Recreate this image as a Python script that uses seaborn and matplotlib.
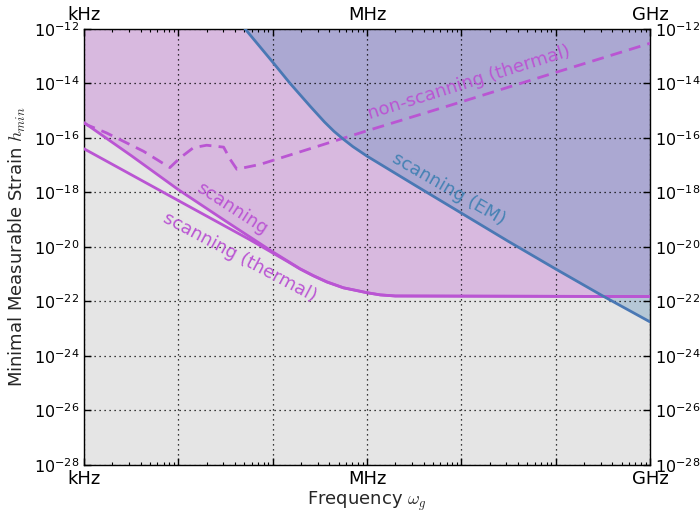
import numpy as np
import matplotlib
matplotlib.use("Agg")
import matplotlib.pyplot as plt
from matplotlib.ticker import LogLocator, NullLocator, FixedLocator, FixedFormatter, FuncFormatter
import seaborn as sns

# Frequencies and strains stored as log10 exponents
scan_logf = [3.0, 3.5, 4.0, 4.5, 5.0, 5.15, 5.29, 5.43, 5.575, 5.75, 5.89, 6.0, 6.14, 6.3, 9.0]
scan_logh = [-15.44, -16.65, -17.9, -19.05, -20.18, -20.5, -20.8, -21.05, -21.28, -21.5, -21.6, -21.68, -21.76, -21.8, -21.82]

thermal_logf = [3.0, 4.0, 4.76, 5.0, 5.15, 5.29, 5.43, 5.575, 5.75, 5.89, 6.0, 6.14, 6.3, 9.0]
thermal_logh = [-16.4, -18.3, -19.74, -20.22, -20.52, -20.81, -21.06, -21.29, -21.5, -21.6, -21.68, -21.76, -21.8, -21.82]

nonscan_logf = [3.0, 3.03, 3.24, 3.63, 3.91, 4.02, 4.16, 4.30, 4.48, 4.55, 4.62, 4.87, 6.0, 7.0, 8.0, 9.0]
nonscan_logh = [-15.45, -15.52, -15.82, -16.49, -17.09, -16.73, -16.36, -16.27, -16.34, -16.79, -17.15, -16.97, -15.74, -14.68, -13.6, -12.53]

em_logf = [4.6, 4.707, 5.0, 5.184, 5.4, 5.55, 5.65, 5.75, 5.85, 6.0, 6.5, 7.0, 7.5, 8.0, 8.5, 9.0]
em_logh = [-11.55, -12.0, -13.22, -14.0, -14.85, -15.42, -15.76, -16.05, -16.32, -16.67, -17.72, -18.76, -19.8, -20.81, -21.8, -22.75]

freq_ticks = [1e3, 1e4, 1e5, 1e6, 1e7, 1e8, 1e9]
freq_labels = ["kHz", "", "", "MHz", "", "", "GHz"]
strain_exponents = [-28, -26, -24, -22, -20, -18, -16, -14, -12]

ORCHID = "mediumorchid"
STEEL = "steelblue"

sns.set_theme(style="ticks")
plt.rcParams.update({
    "font.family": ["DejaVu Sans"],
    "font.size": 13,
    "mathtext.fontset": "cm",
    "axes.unicode_minus": False,
    "axes.facecolor": "#e5e5e5",
    "axes.edgecolor": "black",
    "axes.linewidth": 1.0,
    "xtick.direction": "in",
    "ytick.direction": "in",
    "xtick.color": "black",
    "ytick.color": "black",
    "xtick.labelsize": 13,
    "ytick.labelsize": 11.5,
})

def to_lin(vals):
    return np.power(10.0, np.asarray(vals, dtype=float))

def power_label(value, pos):
    exp = int(round(np.log10(value)))
    return r"$\mathdefault{10^{%d}}$" % exp

fig = plt.figure(figsize=(7, 5.11), dpi=100)
ax = fig.add_axes([0.12, 0.09, 0.8086, 0.8536])
ax.set_xscale("log")
ax.set_yscale("log")
ax.set_xlim(1e3, 1e9)
ax.set_ylim(1e-28, 1e-12)

top = 1e-12
# Excluded regions
ax.fill_between(to_lin(scan_logf), to_lin(scan_logh), top, color=ORCHID, alpha=0.3, lw=0, zorder=1)
ax.fill_between(to_lin(em_logf), to_lin(em_logh), top, color=STEEL, alpha=0.3, lw=0, zorder=1)

sns.lineplot(x=to_lin(thermal_logf), y=to_lin(thermal_logh), ax=ax, color=ORCHID, lw=2,
             sort=False, errorbar=None, zorder=3)
sns.lineplot(x=to_lin(scan_logf), y=to_lin(scan_logh), ax=ax, color=ORCHID, lw=2,
             sort=False, errorbar=None, zorder=3)
sns.lineplot(x=to_lin(nonscan_logf), y=to_lin(nonscan_logh), ax=ax, color=ORCHID, lw=2,
             sort=False, errorbar=None, dashes=False, zorder=3, linestyle=(0, (4.3, 2.6)))
sns.lineplot(x=to_lin(em_logf), y=to_lin(em_logh), ax=ax, color="#4a78b4", lw=2,
             sort=False, errorbar=None, zorder=4)

ax.set_xlim(1e3, 1e9)
ax.set_ylim(1e-28, 1e-12)

ax.grid(True, which="major", color="black", linestyle=(0, (1, 3)), linewidth=0.9)
ax.set_axisbelow(False)
for gl in ax.get_xgridlines() + ax.get_ygridlines():
    gl.set_zorder(2)

ax.xaxis.set_major_locator(FixedLocator(freq_ticks))
ax.xaxis.set_major_formatter(FixedFormatter(freq_labels))
ax.xaxis.set_minor_locator(LogLocator(base=10, subs=np.arange(2, 10), numticks=20))
ax.yaxis.set_major_locator(FixedLocator(list(to_lin(strain_exponents))))
ax.yaxis.set_major_formatter(FuncFormatter(power_label))
ax.yaxis.set_minor_locator(NullLocator())
ax.tick_params(which="both", top=True, right=True, labeltop=True, labelright=True)
ax.tick_params(which="major", length=5, width=1)
ax.tick_params(which="minor", length=2.5, width=0.8)
ax.tick_params(axis="y", pad=3.5)

ax.set_xlabel(r"Frequency $\omega_g$", fontsize=13, labelpad=1)
ax.set_ylabel(r"Minimal Measurable Strain $h_{min}$", fontsize=13, labelpad=4)

ax.text(10**4.566, 10**-18.6, "scanning", color=ORCHID, rotation=-33,
        ha="center", va="center", rotation_mode="anchor", fontsize=13, zorder=5)
ax.text(10**4.654, 10**-20.39, "scanning (thermal)", color=ORCHID, rotation=-28,
        ha="center", va="center", rotation_mode="anchor", fontsize=13, zorder=5)
ax.text(10**6.87, 10**-17.89, "scanning (EM)", color=STEEL, rotation=-30,
        ha="center", va="center", rotation_mode="anchor", fontsize=13, zorder=5)
ax.text(10**7.08, 10**-13.98, "non-scanning (thermal)", color=ORCHID, rotation=17.5,
        ha="center", va="center", rotation_mode="anchor", fontsize=13, zorder=5)

fig.savefig("out.png", dpi=100)
